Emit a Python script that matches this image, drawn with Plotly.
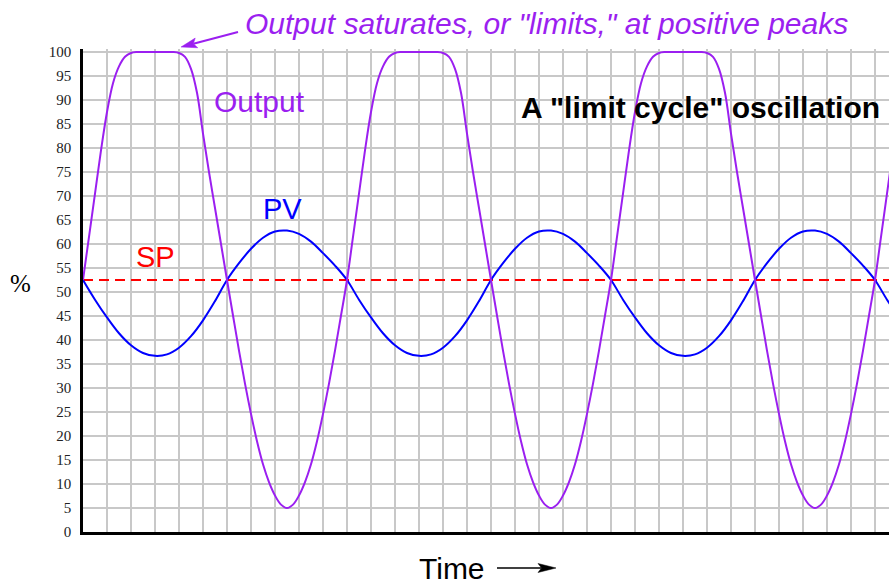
import plotly.graph_objects as go

# ---- data -------------------------------------------------------------
# process variable, sampled every half time division
pv_time = [0.0, 0.5, 1.0, 1.5, 2.0, 2.5, 3.0, 3.5, 4.0, 4.5, 5.0, 5.5,
           6.0, 6.5, 7.0, 7.5, 8.0, 8.5, 9.0, 9.5, 10.0, 10.5,
           11.0, 11.5, 12.0, 12.5, 13.0, 13.5, 14.0, 14.5, 15.0, 15.5,
           16.0, 16.5, 17.0, 17.5, 18.0, 18.5, 19.0, 19.5, 20.0, 20.5,
           21.0, 21.5, 22.0, 22.5, 23.0, 23.5, 24.0, 24.5, 25.0, 25.5,
           26.0, 26.5, 27.0, 27.5, 28.0, 28.5, 29.0, 29.5, 30.0, 30.5,
           31.0, 31.5, 32.0, 32.5, 33.0, 33.5, 34.0]

pv = [52.5, 48.4, 44.7, 41.4, 38.9, 37.3, 36.7, 37.0, 38.4, 40.8, 44.1, 48.1,
      52.5, 56.0, 59.0, 61.3, 62.6, 62.8, 62.1, 60.5, 58.1, 55.5,
      52.5, 48.4, 44.7, 41.4, 38.9, 37.3, 36.7, 37.0, 38.4, 40.8, 44.1, 48.1,
      52.5, 56.0, 59.0, 61.3, 62.6, 62.8, 62.1, 60.5, 58.1, 55.5,
      52.5, 48.4, 44.7, 41.4, 38.9, 37.3, 36.7, 37.0, 38.4, 40.8, 44.1, 48.1,
      52.5, 56.0, 59.0, 61.3, 62.6, 62.8, 62.1, 60.5, 58.1, 55.5,
      52.5, 48.4, 44.7]

# controller output, sampled every quarter time division
out_time = [0.0, 0.25, 0.5, 0.75, 1.0, 1.25, 1.5, 1.75, 2.0, 2.25, 2.5, 2.75,
            3.0, 3.25, 3.5, 3.75, 4.0, 4.25, 4.5, 4.75, 5.0, 5.25, 5.5, 5.75,
            6.0, 6.25, 6.5, 6.75, 7.0, 7.25, 7.5, 7.75, 8.0, 8.25, 8.5, 8.75,
            9.0, 9.25, 9.5, 9.75, 10.0, 10.25, 10.5, 10.75,
            11.0, 11.25, 11.5, 11.75, 12.0, 12.25, 12.5, 12.75,
            13.0, 13.25, 13.5, 13.75, 14.0, 14.25, 14.5, 14.75,
            15.0, 15.25, 15.5, 15.75, 16.0, 16.25, 16.5, 16.75,
            17.0, 17.25, 17.5, 17.75, 18.0, 18.25, 18.5, 18.75,
            19.0, 19.25, 19.5, 19.75, 20.0, 20.25, 20.5, 20.75,
            21.0, 21.25, 21.5, 21.75,
            22.0, 22.25, 22.5, 22.75, 23.0, 23.25, 23.5, 23.75,
            24.0, 24.25, 24.5, 24.75, 25.0, 25.25, 25.5, 25.75,
            26.0, 26.25, 26.5, 26.75, 27.0, 27.25, 27.5, 27.75,
            28.0, 28.25, 28.5, 28.75, 29.0, 29.25, 29.5, 29.75,
            30.0, 30.25, 30.5, 30.75, 31.0, 31.25, 31.5, 31.75,
            32.0, 32.25, 32.5, 32.75,
            33.0, 33.25, 33.5, 33.75]

output = [52.5, 61.5, 70.5, 79.5, 87.5, 93.5, 97.0, 99.0, 99.8, 100.0, 100.0, 100.0,
          100.0, 100.0, 100.0, 100.0, 99.8, 99.0, 96.5, 91.5, 83.0, 75.0, 67.5, 60.0,
          52.5, 45.1, 37.8, 30.9, 24.6, 18.9, 14.1, 10.4, 7.6, 5.7, 5.0, 5.7,
          7.6, 10.4, 14.1, 18.9, 24.6, 30.9, 37.8, 45.1,
          52.5, 61.5, 70.5, 79.5, 87.5, 93.5, 97.0, 99.0, 99.8, 100.0, 100.0, 100.0,
          100.0, 100.0, 100.0, 100.0, 99.8, 99.0, 96.5, 91.5, 83.0, 75.0, 67.5, 60.0,
          52.5, 45.1, 37.8, 30.9, 24.6, 18.9, 14.1, 10.4, 7.6, 5.7, 5.0, 5.7,
          7.6, 10.4, 14.1, 18.9, 24.6, 30.9, 37.8, 45.1,
          52.5, 61.5, 70.5, 79.5, 87.5, 93.5, 97.0, 99.0, 99.8, 100.0, 100.0, 100.0,
          100.0, 100.0, 100.0, 100.0, 99.8, 99.0, 96.5, 91.5, 83.0, 75.0, 67.5, 60.0,
          52.5, 45.1, 37.8, 30.9, 24.6, 18.9, 14.1, 10.4, 7.6, 5.7, 5.0, 5.7,
          7.6, 10.4, 14.1, 18.9, 24.6, 30.9, 37.8, 45.1,
          52.5, 61.5, 70.5, 79.5]

setpoint = 52.5

y_ticks = [0, 5, 10, 15, 20, 25, 30, 35, 40, 45, 50,
           55, 60, 65, 70, 75, 80, 85, 90, 95, 100]

# ---- styling ----------------------------------------------------------
W, H = 889, 584
ML, MR, MT, MB = 83, 0, 49, 52
X_MAX = 806 / 24          # one grid column = 24 px
Y_MAX = 100.625           # a little headroom so the saturated line is not clipped

PURPLE = "#9b1ff0"
BLUE = "#0000ff"
RED = "#ff0000"
GRID = "#c8c8c8"
SANS = "Liberation Sans, Arial, sans-serif"
SERIF = "Liberation Serif, Times New Roman, serif"

plot_w = W - ML - MR
plot_h = H - MT - MB


def px(x):
    return (x - ML) / plot_w


def py(y):
    return (H - MB - y) / plot_h


fig = go.Figure()

fig.add_trace(go.Scatter(
    x=[pv_time[0], pv_time[-1]], y=[setpoint, setpoint], mode="lines",
    line=dict(color=RED, width=2, dash="10px,6px"), hoverinfo="skip"))

fig.add_trace(go.Scatter(
    x=pv_time, y=pv, mode="lines",
    line=dict(color=BLUE, width=2, shape="spline", smoothing=1.0)))

fig.add_trace(go.Scatter(
    x=out_time, y=output, mode="lines",
    line=dict(color=PURPLE, width=2, shape="spline", smoothing=1.0)))

annotations = [
    dict(x=px(243), y=py(23), text="Output saturates, or \"limits,\" at positive peaks",
         xanchor="left", yanchor="middle",
         font=dict(family=SANS, size=30, color=PURPLE, style="italic")),
    dict(x=px(259), y=py(101), text="Output", xanchor="center", yanchor="middle",
         font=dict(family=SANS, size=30, color=PURPLE)),
    dict(x=px(282), y=py(208.5), text="PV", xanchor="center", yanchor="middle",
         font=dict(family=SANS, size=29, color=BLUE)),
    dict(x=px(155), y=py(256.5), text="SP", xanchor="center", yanchor="middle",
         font=dict(family=SANS, size=29, color=RED)),
    dict(x=px(519), y=py(107), text="A \"limit cycle\" oscillation",
         xanchor="left", yanchor="middle",
         font=dict(family=SANS, size=30, color="black", weight="bold")),
    dict(x=px(20), y=py(283), text="%", xanchor="center", yanchor="middle",
         font=dict(family=SERIF, size=25, color="black")),
    dict(x=px(451.5), y=py(568.5), text="Time", xanchor="center", yanchor="middle",
         font=dict(family=SANS, size=30, color="black")),
]
for a in annotations:
    a.update(xref="paper", yref="paper", showarrow=False)


def arrow(x0, y0, x1, y1, color, width, head_len, head_half):
    """Straight arrow in pixel space, drawn as a line plus a notched head."""
    dx, dy = x1 - x0, y1 - y0
    n = (dx * dx + dy * dy) ** 0.5
    ux, uy = dx / n, dy / n
    vx, vy = -uy, ux
    bx, by = x1 - ux * head_len, y1 - uy * head_len
    nx, ny = x1 - ux * head_len * 0.8, y1 - uy * head_len * 0.8
    shapes = [dict(type="line", xref="paper", yref="paper",
                   x0=px(x0), y0=py(y0), x1=px(nx), y1=py(ny),
                   line=dict(color=color, width=width))]
    pts = [(x1, y1), (bx + vx * head_half, by + vy * head_half), (nx, ny),
           (bx - vx * head_half, by - vy * head_half)]
    path = "M " + " L ".join(f"{px(a):.5f},{py(b):.5f}" for a, b in pts) + " Z"
    shapes.append(dict(type="path", xref="paper", yref="paper", path=path,
                       fillcolor=color, line=dict(color=color, width=0.5)))
    return shapes


shapes = arrow(238, 32, 181, 47, PURPLE, 2, 16, 5) + arrow(497, 568, 556, 568, "black", 1.5, 18, 4.5)

fig.update_layout(
    width=W, height=H,
    margin=dict(l=ML, r=MR, t=MT, b=MB, pad=0),
    paper_bgcolor="white", plot_bgcolor="white",
    showlegend=False,
    annotations=annotations,
    shapes=shapes,
    xaxis=dict(range=[0, X_MAX], dtick=1, tick0=0, showgrid=True, gridcolor=GRID,
               gridwidth=2, showticklabels=False, ticks="", zeroline=False,
               showline=True, linecolor="black", linewidth=2.5, fixedrange=True),
    yaxis=dict(range=[0, Y_MAX], tickvals=y_ticks, ticktext=[str(v) for v in y_ticks],
               showgrid=True, gridcolor=GRID, gridwidth=2, ticks="", zeroline=False,
               showline=True, linecolor="black", linewidth=2.5,
               tickfont=dict(family=SERIF, size=15, color="#222222"),
               ticklabelstandoff=6, fixedrange=True),
)

fig.write_html("out.html")
